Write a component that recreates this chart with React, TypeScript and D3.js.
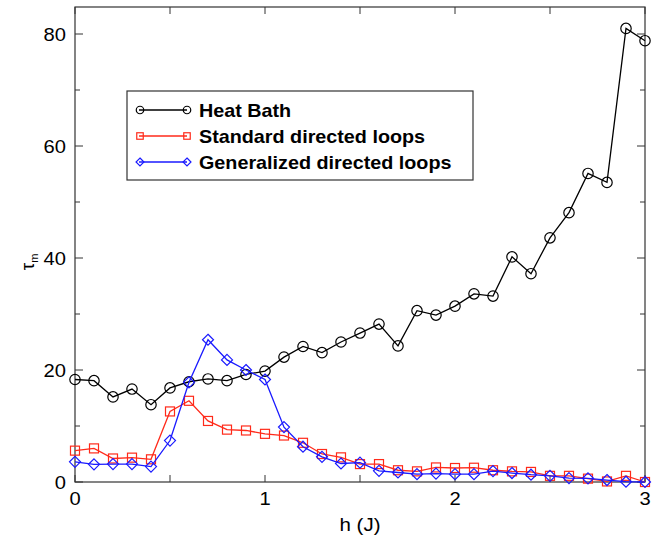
import React from "react";
import * as d3 from "d3";

const hValues = [0, 0.1, 0.2, 0.3, 0.4, 0.5, 0.6, 0.7, 0.8, 0.9, 1.0, 1.1, 1.2, 1.3, 1.4, 1.5, 1.6, 1.7, 1.8, 1.9, 2.0, 2.1, 2.2, 2.3, 2.4, 2.5, 2.6, 2.7, 2.8, 2.9, 3.0];
const heatBath = [18.3, 18.1, 15.2, 16.6, 13.8, 16.8, 17.9, 18.4, 18.1, 19.2, 19.8, 22.3, 24.2, 23.1, 25.0, 26.6, 28.2, 24.3, 30.6, 29.8, 31.4, 33.6, 33.2, 40.2, 37.2, 43.6, 48.1, 55.1, 53.5, 81.0, 78.8];
const standardLoops = [5.6, 6.0, 4.2, 4.35, 4.05, 12.6, 14.5, 10.9, 9.35, 9.2, 8.6, 8.3, 7.0, 5.0, 4.4, 3.2, 3.2, 2.1, 1.9, 2.6, 2.5, 2.55, 2.1, 1.9, 1.8, 1.1, 1.1, 0.6, 0.1, 1.1, 0.0];
const generalizedLoops = [3.6, 3.15, 3.2, 3.2, 2.75, 7.4, 17.8, 25.4, 21.8, 20.0, 18.3, 9.8, 6.3, 4.5, 3.3, 3.45, 2.0, 1.7, 1.4, 1.5, 1.4, 1.4, 1.95, 1.6, 1.3, 1.1, 0.7, 0.65, 0.35, 0.05, 0.0];
const seriesNames = ["Heat Bath", "Standard directed loops", "Generalized directed loops"];
const seriesColors = ["#000000", "#ff2a1a", "#1a1aff"];
const xTickLabels = [0, 1, 2, 3];
const yTickLabels = [0, 20, 40, 60, 80];

const W = 664, H = 539;
const L = 75, R = 645, T = 7, B = 482;

const FONT = "'Liberation Sans', Arial, Helvetica, sans-serif";

function Marker({ kind, x, y, color, size = 1 }: { kind: number; x: number; y: number; color: string; size?: number }) {
  if (kind === 0) return <circle cx={x} cy={y} r={5.2 * size} fill="none" stroke={color} strokeWidth={1.2} />;
  if (kind === 1) {
    const h = 4.5 * size;
    return <rect x={x - h} y={y - h} width={2 * h} height={2 * h} fill="none" stroke={color} strokeWidth={1.2} />;
  }
  const s = 5.5 * size;
  return <path d={`M${x},${y - s}L${x + s},${y}L${x},${y + s}L${x - s},${y}Z`} fill="none" stroke={color} strokeWidth={1.2} />;
}

function SText({ x, y, children, size, anchor = "start", weight = "normal", sx = 1.12 }: any) {
  return (
    <g transform={`translate(${x},${y}) scale(${sx},1)`}>
      <text x={0} y={0} fontSize={size} fontFamily={FONT} fontWeight={weight} textAnchor={anchor} fill="#000">{children}</text>
    </g>
  );
}

export default function App() {
  const x = d3.scaleLinear().domain([0, 3]).range([L, R]);
  const y = d3.scaleLinear().domain([0, 85]).range([B, B - 85 * 5.6]);
  const data = [heatBath, standardLoops, generalizedLoops];
  const line = d3.line<[number, number]>().x(d => x(d[0])).y(d => y(d[1]));

  const xMinor = d3.range(0, 3.0001, 0.5);
  const yMinor = d3.range(0, 81, 10);

  return (
    <svg width={W} height={H} style={{ position: "absolute", left: 0, top: 0 }}>
      <rect x={0} y={0} width={W} height={H} fill="#fff" />
      {xMinor.map((v, i) => (
        <g key={"xt" + i}>
          <line x1={x(v)} x2={x(v)} y1={B} y2={B - 7} stroke="#333" strokeWidth={1} />
          <line x1={x(v)} x2={x(v)} y1={T} y2={T + 7} stroke="#333" strokeWidth={1} />
        </g>
      ))}
      {yMinor.map((v, i) => {
        const len = v % 20 === 0 ? 8 : 5;
        return (
          <g key={"yt" + i}>
            <line x1={L} x2={L + len} y1={y(v)} y2={y(v)} stroke="#333" strokeWidth={1} />
            <line x1={R} x2={R - len} y1={y(v)} y2={y(v)} stroke="#333" strokeWidth={1} />
          </g>
        );
      })}
      <rect x={L} y={T} width={R - L} height={B - T} fill="none" stroke="#333" strokeWidth={1.2} />
      {xTickLabels.map(v => (
        <SText key={"xl" + v} x={x(v)} y={505} size={18} anchor="middle">{v}</SText>
      ))}
      {yTickLabels.map(v => (
        <SText key={"yl" + v} x={66} y={y(v) + 7} size={18} anchor="end">{v}</SText>
      ))}
      <SText x={360} y={531} size={19} anchor="middle" sx={1.08}>h (J)</SText>
      <g transform={`translate(34,262) rotate(-90)`}>
        <text x={0} y={0} fontSize={19} fontFamily={FONT} textAnchor="middle" fill="#000">
          τ<tspan fontSize={11} dy={4}>m</tspan>
        </text>
      </g>
      {data.map((vals, si) => {
        const pts = hValues.map((h, i) => [h, vals[i]] as [number, number]);
        return (
          <g key={"s" + si}>
            <path d={line(pts) || ""} fill="none" stroke={seriesColors[si]} strokeWidth={1.3} />
            {pts.map((p, i) => (
              <Marker key={i} kind={si} x={x(p[0])} y={y(p[1])} color={seriesColors[si]} />
            ))}
          </g>
        );
      })}
      <rect x={127} y={91} width={346} height={89} fill="#fff" stroke="#333" strokeWidth={1.2} />
      {seriesNames.map((name, i) => {
        const ly = 110 + i * 26;
        return (
          <g key={"lg" + i}>
            <line x1={139} x2={187} y1={ly} y2={ly} stroke={seriesColors[i]} strokeWidth={1.3} />
            <Marker kind={i} x={140} y={ly} color={seriesColors[i]} size={0.72} />
            <Marker kind={i} x={187} y={ly} color={seriesColors[i]} size={0.72} />
            <SText x={199} y={ly + 7} size={19} weight="bold" sx={1.04}>{name}</SText>
          </g>
        );
      })}
    </svg>
  );
}
